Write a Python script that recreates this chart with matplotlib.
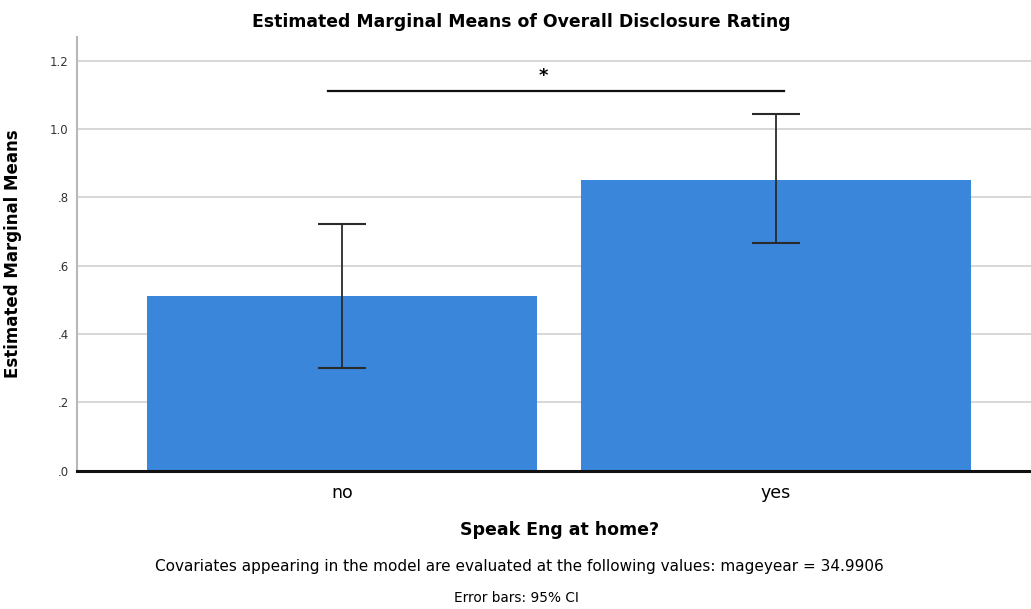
import matplotlib.pyplot as plt

# Estimated marginal means with 95% CI bounds
groups = ['no', 'yes']
means = [0.510, 0.850]
ci_low = [0.299, 0.666]
ci_high = [0.721, 1.044]

yticks = [0.0, 0.2, 0.4, 0.6, 0.8, 1.0, 1.2]
ytick_labels = ['.0', '.2', '.4', '.6', '.8', '1.0', '1.2']

plt.rcParams['font.family'] = ['DejaVu Sans']

fig = plt.figure(figsize=(10.31, 6.09), dpi=100)
ax = fig.add_axes([77 / 1031, 1 - 470.5 / 609, 1 - 77 / 1031, (470.5 - 37) / 609])

x = list(range(len(groups)))
ax.bar(x, means, width=0.9, color='#3a86db', zorder=2)

err_lo = [m - lo for m, lo in zip(means, ci_low)]
err_hi = [hi - m for m, hi in zip(means, ci_high)]
ax.errorbar(x, means, yerr=[err_lo, err_hi], fmt='none', ecolor='#2a2a2a',
            elinewidth=1.3, capsize=17, capthick=1.5, zorder=3)

ax.set_xlim(-0.611, 1.588)
ax.set_ylim(0, 1.27)
ax.set_yticks(yticks)
ax.set_yticklabels(ytick_labels, fontsize=8.5, color='#333333')
ax.set_xticks(x)
ax.set_xticklabels(groups, fontsize=12.5)
ax.tick_params(axis='y', length=0, pad=6)
ax.tick_params(axis='x', length=0, pad=10)

ax.grid(axis='y', color='#d4d4d4', linewidth=1.3, zorder=0)
for side in ['top', 'right']:
    ax.spines[side].set_visible(False)
ax.spines['left'].set_color('#b8b8b8')
ax.spines['left'].set_linewidth(1.5)
ax.spines['bottom'].set_color('#111111')
ax.spines['bottom'].set_linewidth(2.2)
ax.spines['bottom'].set_zorder(4)

# significance bracket
ax.plot([-0.032, 1.018], [1.112, 1.112], color='#111111', linewidth=1.6, zorder=3)
ax.text(0.463, 1.155, '*', ha='center', va='center', fontsize=13, fontweight='bold')

ax.set_ylabel('Estimated Marginal Means', fontsize=12, fontweight='bold')
ax.yaxis.set_label_coords((22 - 77) / 954, 0.5)
ax.set_xlabel('Speak Eng at home?', fontsize=12.5, fontweight='bold')
ax.xaxis.set_label_coords((560 - 77) / 954, (470.5 - 530) / 433.5)
ax.xaxis.label.set_va('center')
fig.suptitle('Estimated Marginal Means of Overall Disclosure Rating',
             fontsize=12.4, fontweight='bold', x=521 / 1031, y=1 - 22 / 609, va='center')

fig.text(519 / 1031, 1 - 566 / 609,
         'Covariates appearing in the model are evaluated at the following values: mageyear = 34.9906',
         ha='center', va='center', fontsize=11)
fig.text(516 / 1031, 1 - 598 / 609, 'Error bars: 95% CI', ha='center', va='center', fontsize=9.8)

fig.savefig('out.png', dpi=100, facecolor='white')
